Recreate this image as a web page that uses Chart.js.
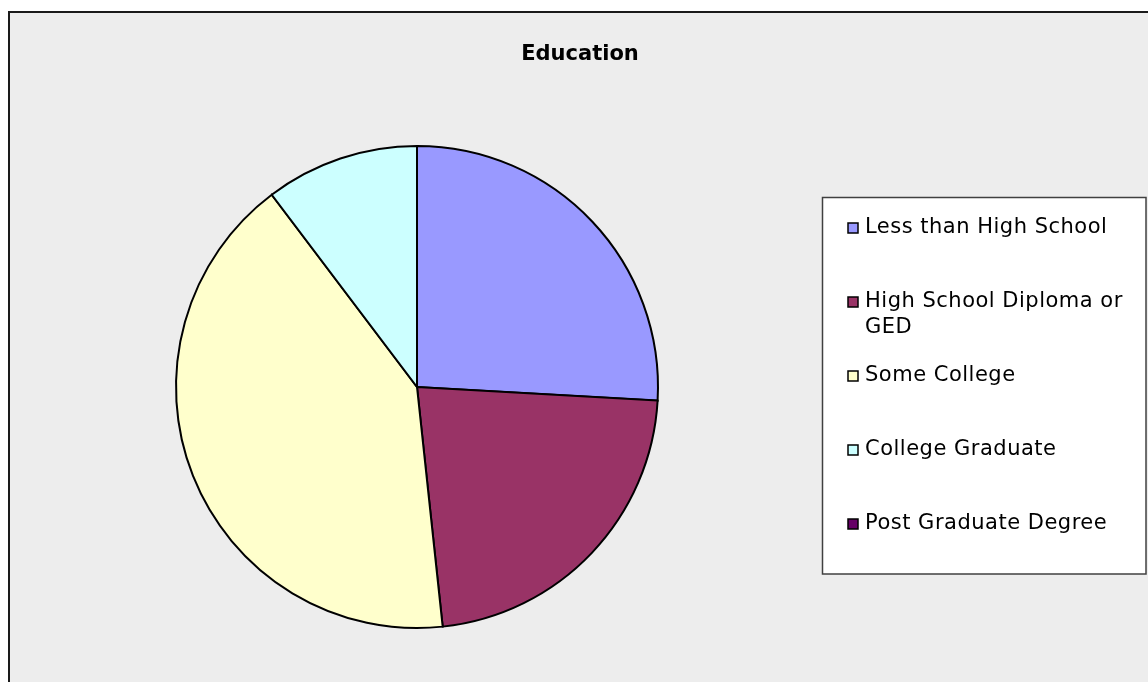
<!DOCTYPE html>
<html>
<head>
<meta charset="utf-8">
<script src="https://cdn.jsdelivr.net/npm/chart.js@4/dist/chart.umd.min.js"></script>
<style>
  html, body { margin: 0; padding: 0; background: #ffffff; }
  #wrap { width: 1148px; height: 682px; position: relative; }
</style>
</head>
<body>
<div id="wrap"><canvas id="c" width="1148" height="682"></canvas></div>
<script>
// Education breakdown (percent of respondents)
const categories = [
  'Less than High School',
  'High School Diploma or GED',
  'Some College',
  'College Graduate',
  'Post Graduate Degree'
];
const shares = [25.9, 22.4, 41.4, 10.3, 0];
const sliceColors = ['#9999FF', '#993366', '#FFFFCC', '#CCFFFF', '#660066'];
const chartTitle = 'Education';

// Grey panel with a dark frame behind everything
const panelPlugin = {
  id: 'panel',
  beforeDraw(chart) {
    const ctx = chart.ctx;
    ctx.save();
    ctx.fillStyle = '#ffffff';
    ctx.fillRect(0, 0, chart.width, chart.height);
    ctx.fillStyle = '#EDEDED';
    ctx.fillRect(9, 12, chart.width, chart.height);
    ctx.strokeStyle = '#1a1a1a';
    ctx.lineWidth = 2;
    ctx.beginPath();
    ctx.moveTo(9, chart.height + 5);
    ctx.lineTo(9, 12);
    ctx.lineTo(chart.width + 5, 12);
    ctx.stroke();
    ctx.restore();
  }
};

// Title and boxed legend on the right, drawn from the chart's own data
const legendBoxPlugin = {
  id: 'legendBox',
  afterDraw(chart) {
    const ctx = chart.ctx;
    const ds = chart.data.datasets[0];
    ctx.save();
    ctx.fillStyle = '#000000';
    ctx.font = 'bold 21px "DejaVu Sans", Verdana, sans-serif';
    ctx.textAlign = 'center';
    ctx.textBaseline = 'middle';
    ctx.fillText(chartTitle, 580, 55);

    // legend frame
    ctx.fillStyle = '#ffffff';
    ctx.fillRect(822, 197, 324, 377);
    ctx.strokeStyle = '#404040';
    ctx.lineWidth = 1.5;
    ctx.strokeRect(822.5, 197.5, 323.5, 376.5);

    const rows = [
      [chart.data.labels[0]],
      ['High School Diploma or', 'GED'],
      [chart.data.labels[2]],
      [chart.data.labels[3]],
      [chart.data.labels[4]]
    ];
    const rowY = [228, 302, 376, 450, 524];
    ctx.font = '21px "DejaVu Sans", Verdana, sans-serif';
    ctx.letterSpacing = '0.5px';
    ctx.textAlign = 'left';
    rows.forEach((lines, i) => {
      const y = rowY[i];
      ctx.fillStyle = ds.backgroundColor[i];
      ctx.fillRect(848, y - 5, 10, 10);
      ctx.strokeStyle = '#000000';
      ctx.lineWidth = 1.5;
      ctx.strokeRect(848, y - 5, 10, 10);
      ctx.fillStyle = '#000000';
      lines.forEach((t, k) => ctx.fillText(t, 865, y + k * 26));
    });
    ctx.restore();
  }
};

new Chart(document.getElementById('c'), {
  type: 'pie',
  data: {
    labels: categories,
    datasets: [{
      data: shares,
      backgroundColor: sliceColors,
      borderColor: '#000000',
      borderWidth: 2,
      borderJoinStyle: 'miter'
    }]
  },
  options: {
    responsive: false,
    animation: false,
    layout: { padding: { left: 175, right: 489, top: 145, bottom: 53 } },
    plugins: {
      legend: { display: false },
      title: { display: false },
      tooltip: { enabled: false }
    }
  },
  plugins: [panelPlugin, legendBoxPlugin]
});
</script>
</body>
</html>
